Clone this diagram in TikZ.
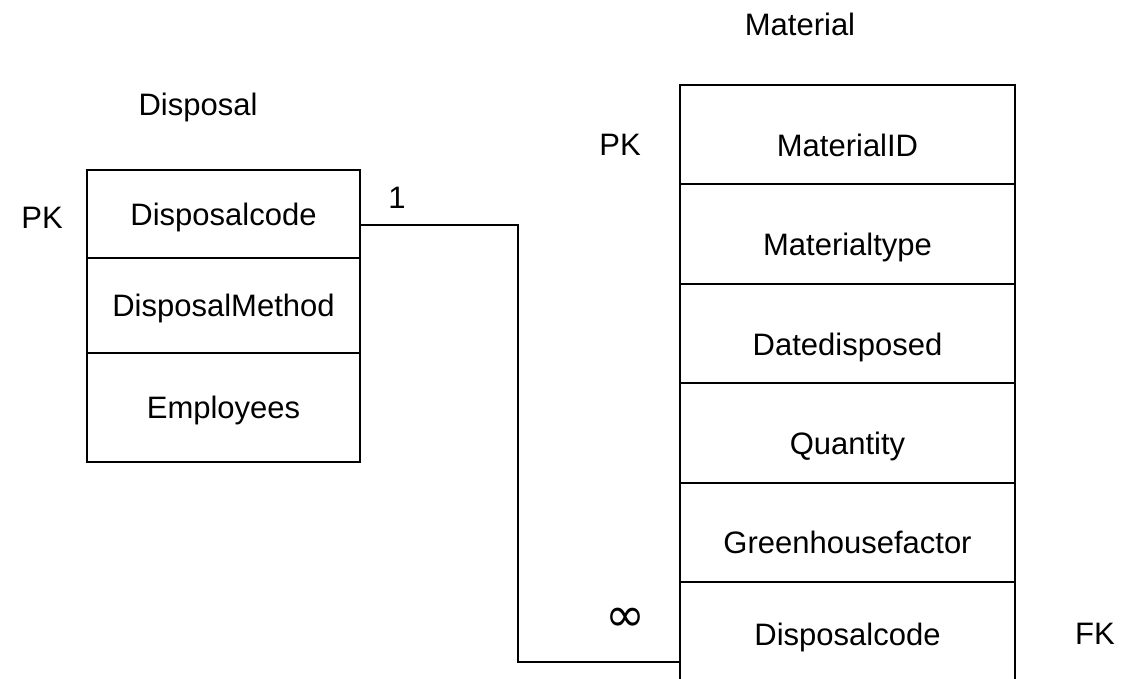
\documentclass[tikz,border=0pt]{standalone}
\usepackage{fontspec}
\setmainfont{Liberation Sans}
\newfontfamily\symbolfont{DejaVu Sans}
\usetikzlibrary{positioning}
\begin{document}
\begin{tikzpicture}[x=1pt, y=-1pt,
        every node/.style={font=\fontsize{31}{36}\selectfont},
        field/.style={draw, line width=2pt, outer sep=0pt, inner sep=0pt, minimum width=273pt,
            text height=22pt, text depth=0pt},
        mfield/.style={field, minimum width=335pt, minimum height=99.4pt, text height=43pt}
    ]
    \useasboundingbox (0,0) rectangle (1123,679);
    \clip (0,0) rectangle (1123,679);

    % Disposal
    \node (disposal) at (198,107) {Disposal};
    \node [field, minimum height=88pt] (dcode) at (223.5,214) {Disposalcode};
    \node [field, minimum height=95pt, below=0pt of dcode] (dmethod) {DisposalMethod};
    \node [field, minimum height=109pt, below=0pt of dmethod] (demployees) {Employees};
    \node (dpk) at (42,218) {PK};

    % Material
    \node (material) at (800,24) {Material};
    \node [mfield] (mid) at (847.5,134.7) {MaterialID};
    \node [mfield, below=0pt of mid] (mtype) {Materialtype};
    \node [mfield, below=0pt of mtype] (mdate) {Datedisposed};
    \node [mfield, below=0pt of mdate] (mqty) {Quantity};
    \node [mfield, below=0pt of mqty] (mfactor) {Greenhousefactor};
    \node [mfield, text height=27pt, below=0pt of mfactor] (mcode) {Disposalcode};
    \node (mpk) at (620,145) {PK};
    \node (mfk) at (1095,634) {FK};

    % relationship
    \draw [line width=2pt]
        ([yshift=-11pt]dcode.east) -- ++(158,0) |- ([yshift=-30pt]mcode.west);
    \node (one) at (397,198) {1};
    \node [font=\symbolfont\fontsize{48}{50}\selectfont] (many) at (625,620) {∞};
\end{tikzpicture}
\end{document}
